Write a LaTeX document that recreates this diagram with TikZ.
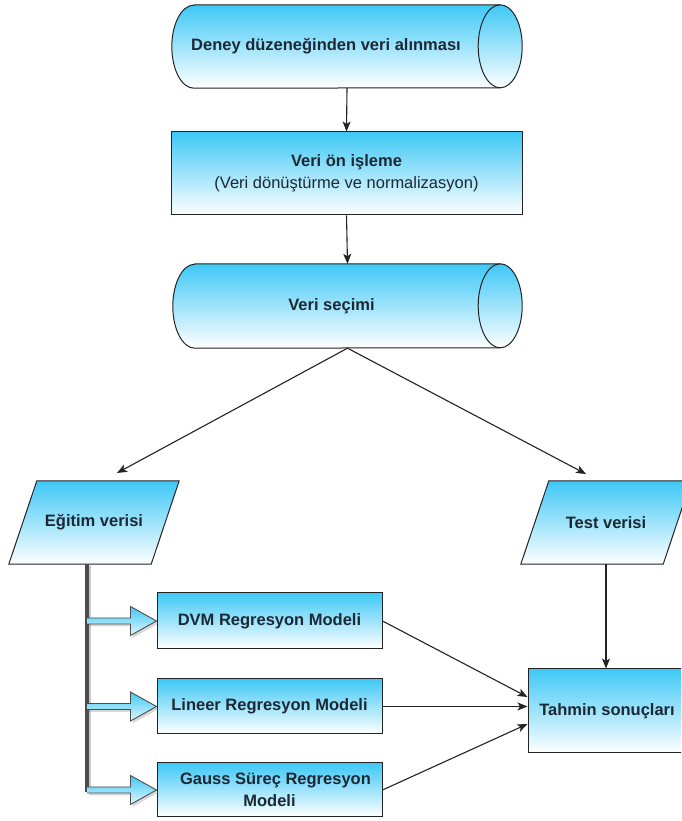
\documentclass[tikz,border=0pt]{standalone}
\usepackage{fontspec}
\setmainfont{Liberation Sans}
\usetikzlibrary{arrows.meta,calc,backgrounds,shadows}
\definecolor{cyanT}{RGB}{62,200,246}
\definecolor{txt}{RGB}{28,40,52}
\definecolor{edge}{RGB}{35,35,35}
\tikzset{
  base/.style={inner sep=0pt, font=\fontsize{16.5}{22}\selectfont\bfseries, text=txt, align=center},
  box/.style={base, draw=edge, line width=1pt, top color=cyanT, bottom color=white},
  grad/.style={top color=cyanT, bottom color=white, draw=edge, line width=1pt},
  conn/.style={draw=edge, line width=1.1pt, -{Stealth[length=10pt,width=8pt,inset=2.5pt]}},
  trunk/.style={draw=black!70, line width=3.5pt},
  blkarrow/.style={top color=cyanT, bottom color=cyanT!15, draw=black!70, line width=0.9pt,
    drop shadow={shadow xshift=2pt, shadow yshift=-2.5pt, opacity=0.3}}
}
\newcommand\drawcyl[2]{%
  \shade[grad] ([xshift=22pt]#1.north west) -- ([xshift=-22pt]#1.north east)
    arc[start angle=90,end angle=-90,x radius=22pt,y radius=#2pt]
    -- ([xshift=22pt]#1.south west)
    arc[start angle=270,end angle=90,x radius=22pt,y radius=#2pt] -- cycle;
  \draw[edge,line width=1pt] ([xshift=-22pt]#1.north east)
    arc[start angle=90,end angle=270,x radius=22pt,y radius=#2pt];}
\newcommand\drawpara[1]{%
  \shade[grad] ([xshift=14pt]#1.north west) -- ([xshift=14pt]#1.north east)
    -- ([xshift=-14pt]#1.south east) -- ([xshift=-14pt]#1.south west) -- cycle;}
\newcommand\blk[1]{%
  \shade[blkarrow] ($(tr |- #1.west)+(0,3)$) -- ($(#1.west)+(-26,3)$)
    -- ($(#1.west)+(-26,14.5)$) -- (#1.west) -- ($(#1.west)+(-26,-14.5)$)
    -- ($(#1.west)+(-26,-3)$) -- ($(tr |- #1.west)+(0,-3)$);}
\begin{document}
\begin{tikzpicture}[x=1pt,y=1pt]
\useasboundingbox (0,0) rectangle (681,821);
\clip (0,0) rectangle (681,821);

% cylinders
\node[base, minimum width=350pt, minimum height=83pt] (c1) at (347,774.5) {};
\node[base] (c1t) at ($(c1.center)+(-21,0)$) {Deney düzeneğinden veri alınması};
\node[box, minimum width=351pt, minimum height=83pt] (r2) at (346.5,647.5)
  {Veri ön işleme\\\mdseries (Veri dönüştürme ve normalizasyon)};
\node[base, minimum width=349pt, minimum height=84pt] (c3) at (347.5,515) {};
\node[base] (c3t) at ($(c3.center)+(-16,0)$) {Veri seçimi};

% parallelograms
\node[base, minimum width=142pt, minimum height=83pt] (e) at (94,298.5) {Eğitim verisi};
\node[base, minimum width=142pt, minimum height=83pt] (t) at (606,298.5) {Test verisi};

% model boxes
\node[box, minimum width=225pt, minimum height=56pt] (m1) at (269.5,200) {DVM Regresyon Modeli};
\node[box, minimum width=225pt, minimum height=55pt] (m2) at (269.5,114.5) {Lineer Regresyon Modeli};
\node[box, minimum width=225pt, minimum height=54pt] (m3) at (269.5,31) {\hspace*{12pt}Gauss Süreç Regresyon\\Modeli};
\node[box, minimum width=158pt, minimum height=84pt] (tah) at (607,110) {Tahmin sonuçları};

\begin{scope}[on background layer]
  \fill[white] (0,0) rectangle (681,821);
  \drawcyl{c1}{41.5}
  \drawcyl{c3}{42}
  \drawpara{e}
  \drawpara{t}
\end{scope}

% connectors
\coordinate (ea) at (117,348);
\coordinate (ta) at (586,347);
\draw[conn] (c1.south) -- (r2.north);
\draw[conn] (r2.south) -- (c3.north);
\draw[conn] (c3.south) -- (ea);
\draw[conn] (c3.south) -- (ta);
\draw[conn] (t.south) -- (t.south |- tah.north);
\draw[conn] (m1.east) -- ($(tah.west)+(0,14)$);
\draw[conn] (m2.east) -- (m2.east -| tah.west);
\draw[conn] (m3.east) -- ($(tah.west)+(0,-13)$);

% trunk and block arrows
\coordinate (tr) at ($(e.south)+(-7,0)$);
\draw[black!35, line width=2.5pt, opacity=0.6] ($(tr)+(3,-2)$) -- ($(tr |- m3.west)+(3,-2)$);
\draw[trunk] (tr) -- ($(tr |- m3.west)+(0,-1.75)$);
\blk{m1}
\blk{m2}
\blk{m3}
\end{tikzpicture}
\end{document}
